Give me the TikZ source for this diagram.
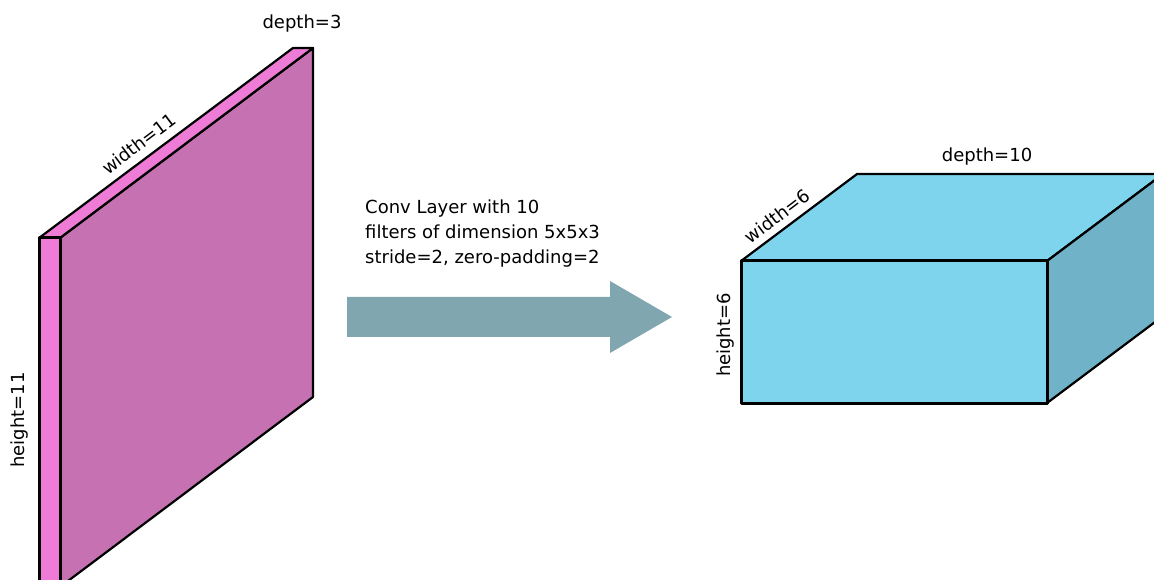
\documentclass[tikz,border=0pt]{standalone}
\usepackage{fontspec}
\setmainfont{DejaVu Sans}
\usepackage{tikz}
\usetikzlibrary{positioning}

\definecolor{slabfront}{HTML}{C671B2}
\definecolor{slabside}{HTML}{EE7BD6}
\definecolor{boxtop}{HTML}{7DD4EC}
\definecolor{boxside}{HTML}{70B3C8}
\definecolor{arrowfill}{HTML}{80A6B0}

\begin{document}
\begin{tikzpicture}[
        x=1pt, y=1pt,
        edge/.style={draw=black, line width=2.2pt, line join=round},
        label/.style={font=\fontsize{18}{25}\selectfont, inner sep=0pt}
    ]
    \useasboundingbox (0,0) rectangle (1154,579);
    \clip (0,0) rectangle (1154,579);

    % Input volume 11x11x3
    \coordinate (sa) at (39,341);
    \coordinate (sb) at (60,341);
    \coordinate (sc) at (293,531);
    \coordinate (sd) at (313,531);
    \coordinate (se) at (313,182);
    \coordinate (sf) at (60,-8);
    \coordinate (sg) at (39,-8);
    \filldraw[edge, fill=slabfront] (sb) -- (sd) -- (se) -- (sf) -- cycle;
    \filldraw[edge, fill=slabside] (sa) -- (sc) -- (sd) -- (sb) -- cycle;
    \filldraw[edge, fill=slabside, line width=3pt] (sa) -- (sb) -- (sf) -- (sg) -- cycle;

    \node[label] (d3) at (302,555) {depth=3};
    \node[label, rotate=37] (w11) at (139,435) {width=11};
    \node[label, rotate=90] (h11) at (20,159) {height=11};

    % Conv layer arrow
    \coordinate (a1) at (347,282);
    \coordinate (a2) at (610,282);
    \coordinate (a3) at (610,298);
    \coordinate (tip) at (672,262);
    \coordinate (a4) at (610,226);
    \coordinate (a5) at (610,242);
    \coordinate (a6) at (347,242);
    \fill[arrowfill] (a1) -- (a2) -- (a3) -- (tip) -- (a4) -- (a5) -- (a6) -- cycle;

    \node[label, anchor=north west, align=left] (conv) at (365,379)
        {Conv Layer with 10\\filters of dimension 5x5x3\\stride=2, zero-padding=2};

    % Output volume 6x6x10
    \coordinate (bp) at (741,318);
    \coordinate (bq) at (1047,318);
    \coordinate (br) at (1047,176);
    \coordinate (bs) at (741,176);
    \coordinate (bt) at (857,405);
    \coordinate (bu) at (1163,405);
    \coordinate (bv) at (1163,263);
    \filldraw[edge, fill=boxtop] (bp) -- (bt) -- (bu) -- (bq) -- cycle;
    \filldraw[edge, fill=boxside] (bq) -- (bu) -- (bv) -- (br) -- cycle;
    \filldraw[edge, fill=boxtop, line width=3pt] (bp) -- (bq) -- (br) -- (bs) -- cycle;

    \node[label] (d10) at (987,422) {depth=10};
    \node[label, rotate=37] (w6) at (777,363) {width=6};
    \node[label, rotate=90] (h6) at (726,244) {height=6};
\end{tikzpicture}
\end{document}
